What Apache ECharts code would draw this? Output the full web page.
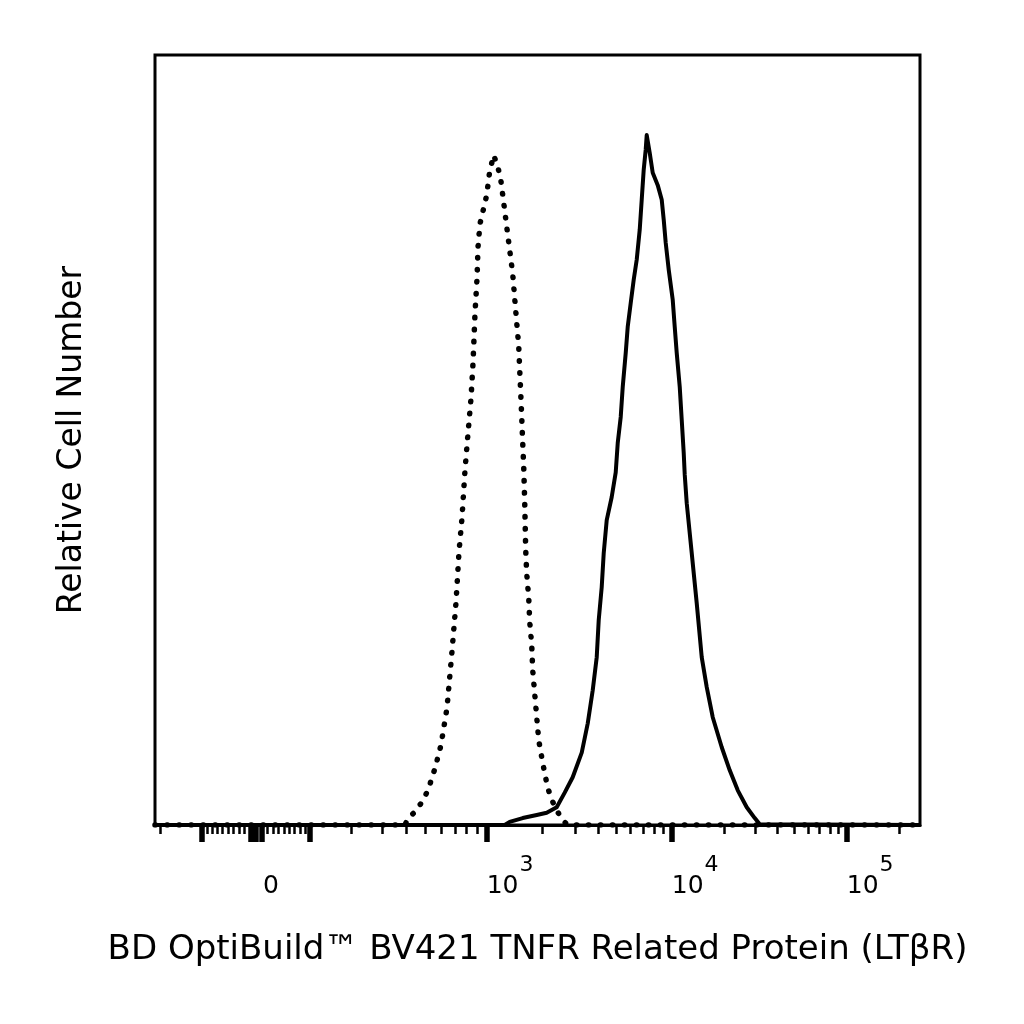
<!DOCTYPE html>
<html>
<head>
<meta charset="utf-8">
<script src="https://cdn.jsdelivr.net/npm/echarts@6/dist/echarts.min.js"></script>
<style>
  html, body { margin: 0; padding: 0; background: #fff; }
  #main { width: 1024px; height: 1024px; }
</style>
</head>
<body>
<div id="main"></div>
<script>
// fluorescence range shown on the cytometer plot
var xMin = -216;
var xMax = 262144;

// isotype control (dotted), x = fluorescence, y = relative count (% of plot height)
var isoX = [-216, 395, 409, 444, 482, 516, 560, 599, 641, 679, 710, 734, 759, 785, 812, 840,
  859, 878, 898, 908, 928, 971, 1000, 1038, 1091, 1147, 1190, 1236, 1283, 1331, 1382, 1417,
  1452, 1489, 1508, 1527, 1546, 1565, 1585, 1605, 1625, 1645, 1687, 1708, 1751, 1773, 1817,
  1864, 1911, 1983, 2033, 2137, 2274, 2419, 2575, 2740, 262144];
var isoY = [0, 0, 0.9, 1.7, 3.0, 4.5, 7.4, 10.4, 15.2, 22.7, 29.0, 35.5, 39.9, 46.1, 50.9, 55.5,
  60.1, 66.5, 71.0, 75.1, 78.1, 80.3, 81.8, 84.9, 87.0, 85.5, 83.9, 80.8, 77.7, 74.7, 71.6, 68.4,
  65.3, 62.3, 59.1, 56.1, 53.0, 49.7, 46.6, 41.9, 35.7, 32.7, 29.5, 26.4, 23.4, 20.1, 17.1,
  14.0, 11.0, 8.8, 7.4, 4.8, 3.0, 1.7, 0.6, 0, 0];

// LTbR stained cells (solid)
var stainX = [-216, 1251, 1331, 1565, 1864, 2110, 2389, 2640, 2916, 3263, 3516, 3741, 3932, 4031,
  4184, 4290, 4453, 4739, 4981, 5107, 5301, 5435, 5641, 5783, 6003, 6231, 6468, 6714, 6883, 7057,
  7234, 7325, 7603, 7893, 8401, 8830, 9052, 9280, 9633, 10132, 10403, 10680, 11111, 11406, 11710,
  11866, 12182, 13013, 13895, 14837, 15849, 17150, 19307, 21452, 23838, 26827, 29807, 31833, 262144];
var stainY = [0, 0, 0.4, 0.9, 1.3, 1.6, 2.3, 4.2, 6.2, 9.4, 13.2, 17.5, 21.8, 26.6,
  30.9, 35.3, 39.6, 42.6, 45.8, 49.6, 53.0, 56.9, 61.3, 64.7, 67.8, 70.8, 73.4, 77.3, 81.2, 85.1,
  87.7, 89.6, 87.3, 84.7, 83.1, 81.2, 78.6, 75.6, 72.1, 68.2, 64.7, 61.3, 56.9, 52.6, 48.3,
  45.5, 41.8, 35.3, 28.8, 21.8, 17.9, 14.0, 10.1, 7.1, 4.5, 2.3, 0.9, 0.1, 0];

var majorTicks = [-100, -10, 0, 10, 100, 1000, 10000, 100000];
var minorTicks = [-200, -90, -80, -70, -60, -50, -40, -30, -20, 20, 30, 40, 50, 60, 70, 80, 90,
  200, 300, 400, 500, 600, 700, 800, 900,
  2000, 3000, 4000, 5000, 6000, 7000, 8000, 9000,
  20000, 30000, 40000, 50000, 60000, 70000, 80000, 90000, 200000];
var labelValues = [0, 1000, 10000, 100000];
var labelTexts = ['{zero|0}', '{base|10}{sup|3}', '{base|10}{sup|4}', '{base|10}{sup|5}'];

var xTitle = 'BD OptiBuild\u2122 BV421 TNFR Related Protein (LT\u03b2R)';
var yTitle = 'Relative Cell Number';

// biexponential-like display scale: linear around zero, log above 10^3
function biex(v) {
    if (v <= 1000) return 91.1 * Math.asinh(v / 160);
    var b3 = 91.1 * Math.asinh(1000 / 160);
    if (v <= 10000) return b3 + 185 * Math.log10(v / 1000);
    return b3 + 185 + 175 * Math.log10(v / 10000);
}

function toPairs(xs, ys) {
    return xs.map(function (x, i) { return [biex(x), ys[i]]; });
}

var font = '"DejaVu Sans", "Liberation Sans", sans-serif';
var chart = echarts.init(document.getElementById('main'));

chart.setOption({
    backgroundColor: '#fff',
    animation: false,
    grid: {
        left: 155, right: 104, top: 55, bottom: 199,
        show: true, borderColor: '#000', borderWidth: 3
    },
    xAxis: [{
        type: 'value',
        min: biex(xMin),
        max: biex(xMax),
        name: xTitle,
        nameLocation: 'middle',
        nameGap: 108,
        nameTextStyle: { fontFamily: font, fontSize: 34, color: '#000' },
        axisLine: { show: true, lineStyle: { color: '#000', width: 3 } },
        axisTick: {
            show: true,
            customValues: majorTicks.map(biex),
            length: 17,
            lineStyle: { color: '#000', width: 5.5 }
        },
        axisLabel: {
            show: true,
            customValues: labelValues.map(biex),
            align: 'left',
            margin: 29,
            formatter: function (val) {
                for (var i = 0; i < labelValues.length; i++) {
                    if (Math.abs(biex(labelValues[i]) - val) < 0.01) return labelTexts[i];
                }
                return '';
            },
            rich: {
                zero: { fontFamily: font, fontSize: 25, color: '#000', lineHeight: 64, padding: [0, 0, 0, 7] },
                base: { fontFamily: font, fontSize: 25, color: '#000', lineHeight: 64 },
                sup: { fontFamily: font, fontSize: 22, color: '#000', lineHeight: 21, verticalAlign: 'top', padding: [0, 0, 0, 1] }
            }
        },
        splitLine: { show: false }
    }, {
        type: 'value',
        min: biex(xMin),
        max: biex(xMax),
        position: 'bottom',
        axisLine: { show: false },
        axisTick: {
            show: true,
            customValues: minorTicks.map(biex),
            length: 9,
            lineStyle: { color: '#000', width: 2.5 }
        },
        axisLabel: { show: false },
        splitLine: { show: false }
    }],
    yAxis: {
        type: 'value',
        min: 0,
        max: 100,
        name: yTitle,
        nameLocation: 'middle',
        nameGap: 66,
        nameTextStyle: { fontFamily: font, fontSize: 33, color: '#000' },
        axisLine: { show: false },
        axisTick: { show: false },
        axisLabel: { show: false },
        splitLine: { show: false }
    },
    series: [{
        name: 'Isotype control',
        type: 'line',
        data: toPairs(isoX, isoY),
        showSymbol: false,
        lineStyle: { color: '#000', width: 5.5, type: [0.5, 11.5], cap: 'round' },
        z: 3
    }, {
        name: 'LTbR',
        type: 'line',
        data: toPairs(stainX, stainY),
        showSymbol: false,
        lineStyle: { color: '#000', width: 4, join: 'round' },
        z: 4
    }]
});
</script>
</body>
</html>
